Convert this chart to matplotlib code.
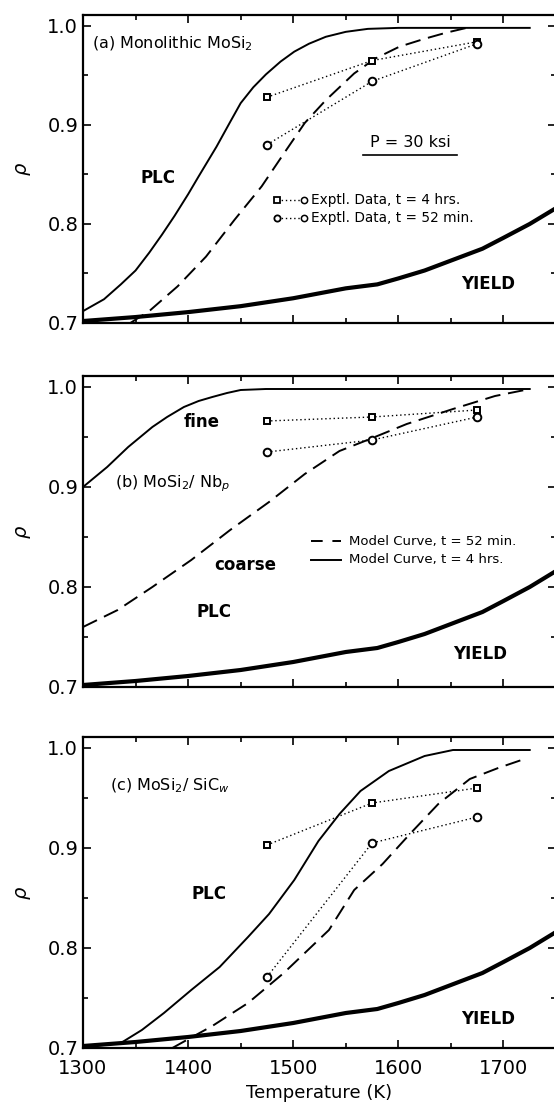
import numpy as np
import matplotlib
matplotlib.use("Agg")
import matplotlib.pyplot as plt
from matplotlib.ticker import MultipleLocator

plt.rcParams['font.family'] = ['DejaVu Sans']
plt.rcParams['mathtext.fontset'] = 'dejavusans'

# yield boundary (same in every panel)
T_yield = [1300, 1350, 1400, 1450, 1475, 1500, 1525, 1550, 1580, 1600, 1625, 1655, 1680, 1700, 1725, 1750]
rho_yield = [0.702, 0.706, 0.711, 0.717, 0.721, 0.725, 0.730, 0.735, 0.739, 0.745, 0.753, 0.765, 0.775, 0.786, 0.800, 0.816]

# experimental temperatures
T_exp = [1475, 1575, 1675]

# (a) monolithic MoSi2
T_a_4h = [1300, 1320, 1336, 1350, 1363, 1375, 1387, 1400, 1410, 1427, 1440, 1450, 1462, 1474, 1488, 1501, 1515, 1531, 1550, 1571, 1600, 1625, 1725]
rho_a_4h = [0.712, 0.724, 0.739, 0.753, 0.771, 0.789, 0.808, 0.830, 0.848, 0.878, 0.903, 0.922, 0.938, 0.951, 0.964, 0.974, 0.982, 0.989, 0.994, 0.997, 0.998, 0.998, 0.998]
T_a_52 = [1345, 1363, 1390, 1417, 1444, 1470, 1491, 1511, 1531, 1558, 1578, 1601, 1625, 1645, 1665]
rho_a_52 = [0.700, 0.712, 0.737, 0.767, 0.804, 0.838, 0.871, 0.902, 0.925, 0.952, 0.967, 0.979, 0.987, 0.993, 0.998]
rho_a_exp_4h = [0.928, 0.965, 0.984]
rho_a_exp_52 = [0.880, 0.944, 0.982]

# (b) MoSi2 / Nb particles
T_b_4h = [1300, 1323, 1343, 1366, 1380, 1396, 1410, 1423, 1437, 1450, 1474, 1725]
rho_b_4h = [0.900, 0.920, 0.940, 0.960, 0.970, 0.980, 0.986, 0.990, 0.994, 0.997, 0.998, 0.998]
T_b_52 = [1300, 1333, 1366, 1403, 1440, 1477, 1511, 1544, 1573, 1608, 1652, 1692, 1725]
rho_b_52 = [0.760, 0.777, 0.800, 0.827, 0.857, 0.885, 0.913, 0.936, 0.948, 0.963, 0.978, 0.991, 0.998]
rho_b_exp_4h = [0.966, 0.970, 0.977]
rho_b_exp_52 = [0.935, 0.947, 0.970]

# (c) MoSi2 / SiC whiskers
T_c_4h = [1300, 1320, 1336, 1356, 1377, 1403, 1430, 1457, 1477, 1501, 1524, 1544, 1564, 1591, 1625, 1652, 1725]
rho_c_4h = [0.701, 0.703, 0.705, 0.718, 0.735, 0.758, 0.781, 0.811, 0.834, 0.868, 0.907, 0.934, 0.957, 0.977, 0.992, 0.998, 0.998]
T_c_52 = [1385, 1397, 1423, 1457, 1491, 1534, 1558, 1585, 1611, 1638, 1668, 1695, 1720]
rho_c_52 = [0.700, 0.707, 0.722, 0.745, 0.775, 0.818, 0.858, 0.884, 0.914, 0.944, 0.969, 0.980, 0.989]
rho_c_exp_4h = [0.903, 0.945, 0.960]
rho_c_exp_52 = [0.771, 0.905, 0.931]

fig = plt.figure(figsize=(5.54, 11.08), dpi=100)
W, H = 554.0, 1108.0
left = 83 / W
width = 473 / W
# (top, bottom) pixel rows of each axes box
boxes = [(15, 323), (376, 687), (737, 1048)]
axes = []
for top, bot in boxes:
    ax = fig.add_axes([left, 1 - bot / H, width, (bot - top) / H])
    axes.append(ax)

dash = (8, 4)
for ax in axes:
    ax.set_xlim(1300, 1750)
    ax.set_ylim(0.7, 1.011)
    ax.xaxis.set_major_locator(MultipleLocator(100))
    ax.xaxis.set_minor_locator(MultipleLocator(50))
    ax.yaxis.set_major_locator(MultipleLocator(0.1))
    ax.yaxis.set_minor_locator(MultipleLocator(0.05))
    ax.yaxis.set_major_formatter(plt.FormatStrFormatter('%.1f'))
    ax.tick_params(which='both', direction='in', top=True, right=True, width=1.2)
    ax.tick_params(which='major', length=6, labelsize=14)
    ax.tick_params(which='minor', length=3.5)
    for s in ax.spines.values():
        s.set_linewidth(1.6)
    ax.set_ylabel(r'$\rho$', fontsize=14)
    ax.yaxis.set_label_coords(-0.105, 0.5)
    ax.plot(T_yield, rho_yield, 'k-', lw=3.0, solid_capstyle='round')
    ax.tick_params(axis='x', labelbottom=False)

axes[2].tick_params(axis='x', labelbottom=True, pad=8)
axes[2].set_xlabel('Temperature (K)', fontsize=13, labelpad=4)

def exp_series(ax, r4, r52):
    ax.plot(T_exp, r4, color='k', lw=1.0, ls=(0, (1, 2)), marker='s', ms=5,
            mfc='white', mec='k', mew=1.4)
    ax.plot(T_exp, r52, color='k', lw=1.0, ls=(0, (1, 2)), marker='o', ms=5.5,
            mfc='white', mec='k', mew=1.4)

lab = dict(fontsize=12, fontweight='bold', ha='center', va='center')

# panel (a)
ax = axes[0]
ax.plot(T_a_4h, rho_a_4h, 'k-', lw=1.4)
ax.plot(T_a_52, rho_a_52, 'k-', lw=1.4, dashes=dash)
exp_series(ax, rho_a_exp_4h, rho_a_exp_52)
ax.text(1309, 0.982, r'(a) Monolithic MoSi$_2$', fontsize=11.5, va='center')
ax.text(1371, 0.846, 'PLC', **lab)
ax.text(1685, 0.739, 'YIELD', **lab)
ax.text(1611, 0.882, 'P = 30 ksi', fontsize=11.5, ha='center', va='center')
ax.plot([1566, 1656], [0.870, 0.870], 'k-', lw=1.2)
ax.plot([1485, 1510], [0.824, 0.824], color='k', lw=1.0, ls=(0, (1, 2)))
ax.plot([1485], [0.824], 's', ms=4.5, mfc='white', mec='k', mew=1.3)
ax.plot([1510], [0.824], 'o', ms=4.5, mfc='white', mec='k', mew=1.1)
ax.plot([1485, 1510], [0.806, 0.806], color='k', lw=1.0, ls=(0, (1, 2)))
ax.plot([1485], [0.806], 'o', ms=4.5, mfc='white', mec='k', mew=1.3)
ax.plot([1510], [0.806], 'o', ms=4.5, mfc='white', mec='k', mew=1.1)
ax.text(1517, 0.824, 'Exptl. Data, t = 4 hrs.', fontsize=9.8, va='center')
ax.text(1517, 0.806, 'Exptl. Data, t = 52 min.', fontsize=9.8, va='center')

# panel (b)
ax = axes[1]
ax.plot(T_b_4h, rho_b_4h, 'k-', lw=1.4)
ax.plot(T_b_52, rho_b_52, 'k-', lw=1.4, dashes=dash)
exp_series(ax, rho_b_exp_4h, rho_b_exp_52)
ax.text(1330, 0.903, r'(b) MoSi$_2$/ Nb$_p$', fontsize=11.5, va='center')
ax.text(1413, 0.965, 'fine', **lab)
ax.text(1454, 0.822, 'coarse', **lab)
ax.text(1425, 0.775, 'PLC', **lab)
ax.text(1678, 0.733, 'YIELD', **lab)
ax.plot([1517, 1545], [0.846, 0.846], 'k-', lw=1.4, dashes=(6, 5))
ax.plot([1517, 1545], [0.827, 0.827], 'k-', lw=1.4)
ax.text(1553, 0.846, 'Model Curve, t = 52 min.', fontsize=9.5, va='center')
ax.text(1553, 0.827, 'Model Curve, t = 4 hrs.', fontsize=9.5, va='center')

# panel (c)
ax = axes[2]
ax.plot(T_c_4h, rho_c_4h, 'k-', lw=1.4)
ax.plot(T_c_52, rho_c_52, 'k-', lw=1.4, dashes=dash)
exp_series(ax, rho_c_exp_4h, rho_c_exp_52)
ax.text(1326, 0.962, r'(c) MoSi$_2$/ SiC$_w$', fontsize=11.5, va='center')
ax.text(1420, 0.854, 'PLC', **lab)
ax.text(1685, 0.729, 'YIELD', **lab)

fig.savefig('out.png', dpi=100)
